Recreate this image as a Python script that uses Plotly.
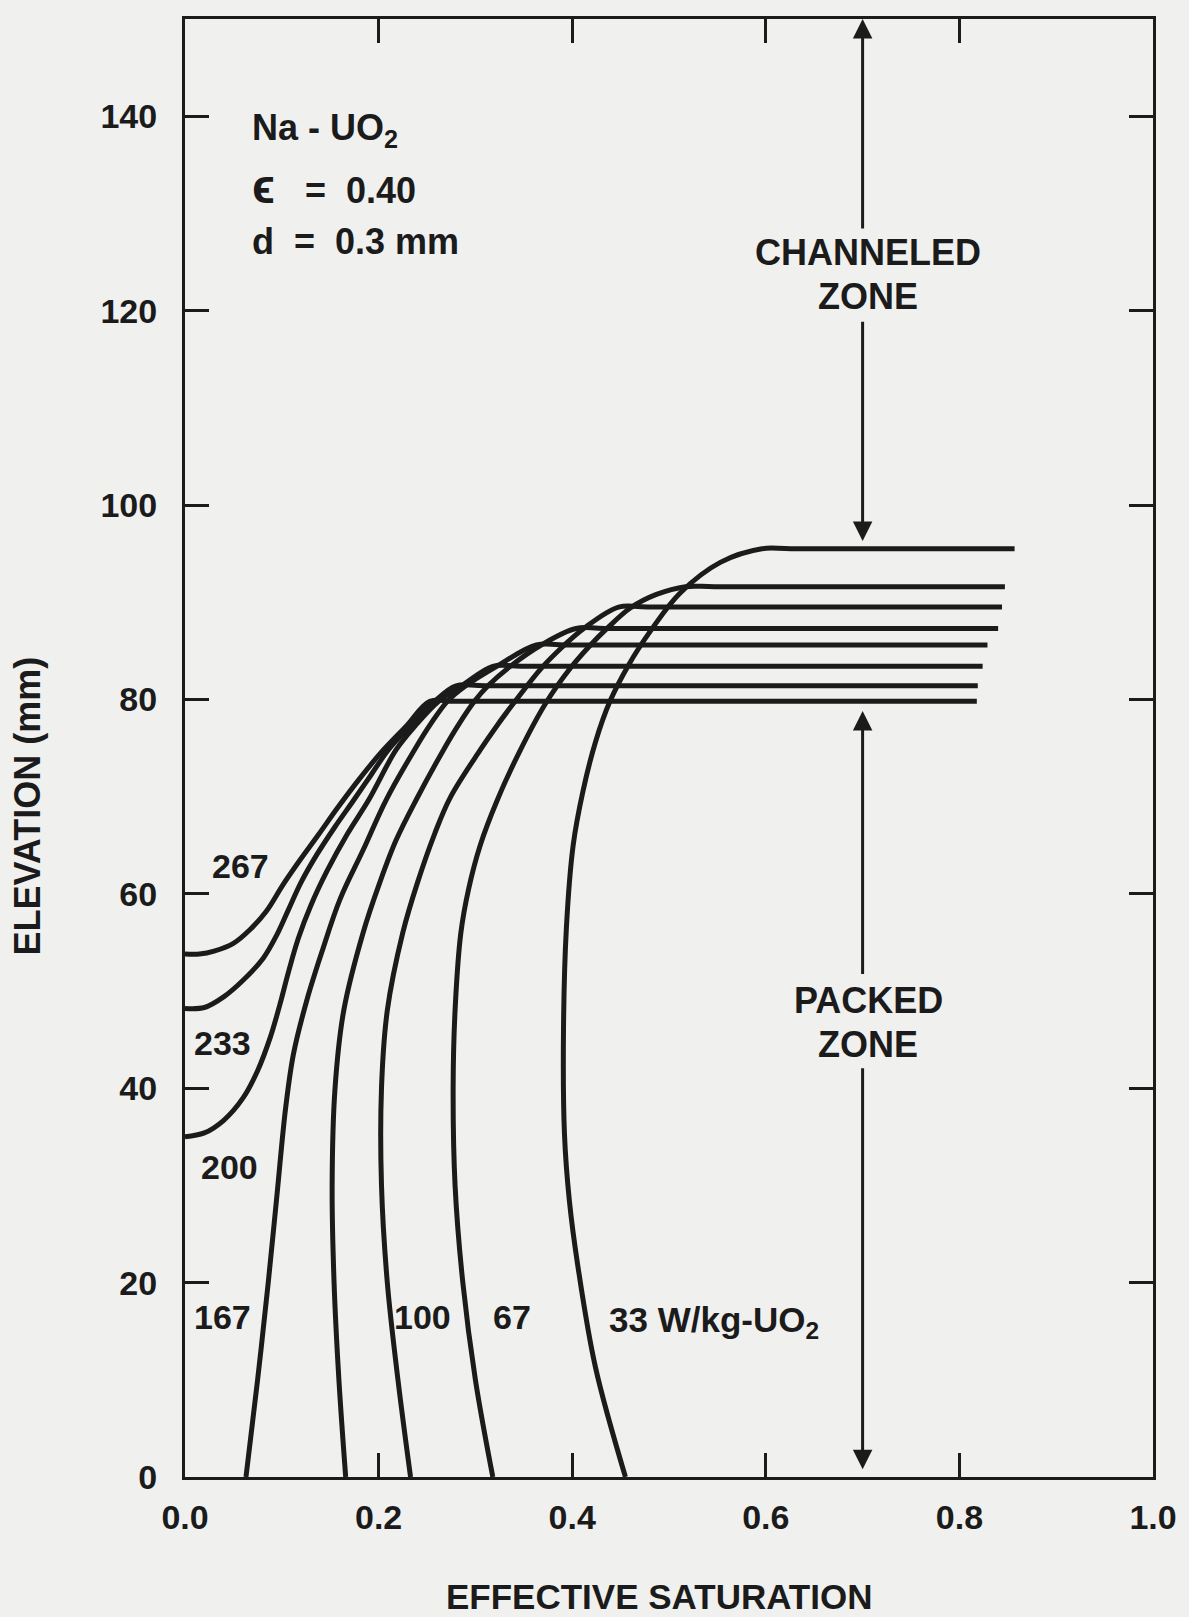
import plotly.graph_objects as go

INK = "#1b1b1b"
PAPER = "#f0f0ef"
FONT = "Liberation Sans, Arial, Helvetica, sans-serif"

# Heat generation rate of each profile (W/kg-UO2)
power_levels = [267, 233, 200, 167, 133, 100, 67, 33]

# Effective saturation / elevation (mm) along each profile
sat_267 = [0.0, 0.015, 0.03, 0.05, 0.067, 0.084, 0.101, 0.119, 0.138, 0.158, 0.18, 0.204, 0.229, 0.253, 0.28, 0.818]
elev_267 = [53.8, 53.8, 54.1, 54.9, 56.3, 58.2, 60.9, 63.5, 66.1, 68.9, 71.8, 74.7, 77.3, 79.8, 79.8, 79.8]

sat_233 = [0.0, 0.02, 0.04, 0.06, 0.081, 0.095, 0.107, 0.12, 0.136, 0.155, 0.174, 0.192, 0.21, 0.234, 0.258, 0.28, 0.31, 0.819]
elev_233 = [48.2, 48.3, 49.4, 51.1, 53.4, 55.8, 58.4, 61.2, 64.0, 66.9, 69.6, 72.2, 74.8, 77.4, 79.8, 81.4, 81.4, 81.4]

sat_200 = [0.0, 0.02, 0.04, 0.06, 0.075, 0.088, 0.098, 0.107, 0.117, 0.13, 0.147, 0.168, 0.19, 0.218, 0.238, 0.262, 0.286, 0.318, 0.348, 0.824]
elev_200 = [35.0, 35.4, 36.7, 39.0, 41.8, 45.2, 48.6, 52.0, 55.4, 58.8, 62.4, 66.2, 69.7, 74.8, 77.3, 79.8, 81.4, 83.4, 83.4, 83.4]

sat_167 = [0.063, 0.075, 0.086, 0.095, 0.104, 0.112, 0.126, 0.142, 0.16, 0.184, 0.208, 0.237, 0.254, 0.271, 0.29, 0.322, 0.363, 0.393, 0.829]
elev_167 = [0.0, 10.0, 20.0, 29.0, 38.0, 43.5, 49.1, 54.2, 59.4, 64.5, 69.7, 74.8, 77.5, 79.8, 81.4, 83.4, 85.6, 85.6, 85.6]

sat_133 = [0.166, 0.159, 0.154, 0.152, 0.155, 0.164, 0.184, 0.201, 0.218, 0.239, 0.267, 0.282, 0.299, 0.313, 0.336, 0.368, 0.404, 0.434, 0.840]
elev_133 = [0.0, 10.0, 20.0, 30.0, 40.0, 48.0, 56.0, 61.1, 65.5, 69.7, 74.8, 77.3, 79.8, 81.4, 83.4, 85.6, 87.3, 87.3, 87.3]

sat_100 = [0.233, 0.22, 0.209, 0.203, 0.203, 0.209, 0.225, 0.24, 0.258, 0.274, 0.305, 0.323, 0.341, 0.368, 0.392, 0.412, 0.448, 0.478, 0.844]
elev_100 = [0.0, 10.0, 20.0, 30.0, 40.0, 48.0, 56.0, 61.1, 66.2, 69.9, 74.8, 77.4, 79.8, 83.2, 85.6, 87.3, 89.5, 89.5, 89.5]

sat_67 = [0.318, 0.3, 0.287, 0.279, 0.277, 0.279, 0.285, 0.293, 0.305, 0.322, 0.345, 0.372, 0.398, 0.418, 0.436, 0.46, 0.487, 0.517, 0.547, 0.847]
elev_67 = [0.0, 10.0, 20.0, 30.0, 40.0, 48.0, 56.0, 60.5, 65.0, 69.5, 74.5, 79.5, 83.2, 85.5, 87.3, 89.4, 90.8, 91.6, 91.6, 91.6]

sat_33 = [0.455, 0.424, 0.406, 0.397, 0.392, 0.391, 0.394, 0.401, 0.411, 0.424, 0.439, 0.458, 0.482, 0.511, 0.553, 0.596, 0.626, 0.857]
elev_33 = [0.0, 11.3, 21.6, 28.5, 35.3, 45.9, 56.5, 65.0, 70.5, 75.6, 79.8, 83.5, 87.2, 90.9, 94.1, 95.5, 95.5, 95.5]

profiles = [
    (sat_267, elev_267), (sat_233, elev_233), (sat_200, elev_200), (sat_167, elev_167),
    (sat_133, elev_133), (sat_100, elev_100), (sat_67, elev_67), (sat_33, elev_33),
]

# Curve labels: power level -> (saturation, elevation) of label centre
label_pos = {
    267: (0.057, 62.9),
    233: (0.039, 44.7),
    200: (0.046, 31.9),
    167: (0.039, 16.5),
    100: (0.245, 16.5),
    67: (0.338, 16.5),
}
units_label_pos = (0.436, 16.5)

x_ticks = [0.0, 0.2, 0.4, 0.6, 0.8, 1.0]
x_ticktext = ["0.0", "0.2", "0.4", "0.6", "0.8", "1.0"]
y_ticks = [0, 20, 40, 60, 80, 100, 120, 140]

# Zone marker arrows at fixed saturation: (tip elevation, tail elevation)
zone_x = 0.70
zone_arrows = [(150.0, 128.3), (96.3, 119.0), (78.8, 51.6), (0.8, 42.2)]

fig = go.Figure()
for (sx, ey), p in zip(profiles, power_levels):
    fig.add_trace(go.Scatter(
        x=sx, y=ey, mode="lines", name=f"{p} W/kg-UO2",
        line=dict(color=INK, width=5, shape="spline", smoothing=1.0),
        hoverinfo="skip", showlegend=False,
    ))

annotations = []
bold = dict(family=FONT, size=34, color=INK, weight="bold")

for p, (lx, ly) in label_pos.items():
    annotations.append(dict(x=lx, y=ly, xref="x", yref="y", text=str(p),
                            showarrow=False, font=bold, xanchor="center", yanchor="middle"))
annotations.append(dict(x=units_label_pos[0], y=units_label_pos[1], xref="x", yref="y",
                        text=f"{power_levels[-1]} W/kg-UO<sub>2</sub>", showarrow=False,
                        font=dict(bold, size=35), xanchor="left", yanchor="middle", yshift=-5))

# Parameter block
nb = "\u00a0"
params = [
    "Na - UO<sub>2</sub>",
    f"<span style='font-size:48px'>\u03f5</span>{nb*3}={nb*2}0.40",
    f"d{nb*2}={nb*2}0.3{nb}mm",
]
param_y = [138.9, 132.8, 127.1]
param_shift = [-3, 0, 0]
param_font = dict(family=FONT, size=36, color=INK, weight="bold")
for t, py, sh in zip(params, param_y, param_shift):
    annotations.append(dict(x=0.067, y=py, xref="x", yref="y", text=t, showarrow=False,
                            font=param_font, xanchor="left", yanchor="middle", yshift=sh))

zone_font = dict(family=FONT, size=36, color=INK, weight="bold")
zone_text = [("CHANNELED", 126.0), ("ZONE", 121.5), ("PACKED", 49.0), ("ZONE", 44.5)]
for t, zy in zone_text:
    annotations.append(dict(x=0.706, y=zy, xref="x", yref="y", text=t, showarrow=False,
                            font=zone_font, xanchor="center", yanchor="middle"))

for tip, tail in zone_arrows:
    annotations.append(dict(x=zone_x, y=tip, ax=zone_x, ay=tail, xref="x", yref="y",
                            axref="x", ayref="y", text="", showarrow=True, arrowhead=2,
                            arrowsize=1.3, arrowwidth=3, arrowcolor=INK, standoff=0))

# Axis titles
title_font = dict(family=FONT, size=35, color=INK, weight="bold")
annotations.append(dict(x=0.49, y=-0.082, xref="paper", yref="paper", text="EFFECTIVE SATURATION",
                        showarrow=False, font=title_font, xanchor="center", yanchor="middle"))
annotations.append(dict(x=-0.163, y=0.46, xref="paper", yref="paper", text="ELEVATION (mm)",
                        showarrow=False, font=dict(title_font, size=36), textangle=-90,
                        xanchor="center", yanchor="middle"))

axis_common = dict(
    showline=True, linewidth=3, linecolor=INK, mirror="ticks",
    ticks="inside", ticklen=24, tickwidth=2.5, tickcolor=INK,
    showgrid=False, zeroline=False,
    tickfont=dict(family=FONT, size=34, color=INK, weight="bold"),
)

fig.update_layout(
    width=1189, height=1617,
    margin=dict(l=185, r=34, t=19, b=140),
    paper_bgcolor=PAPER, plot_bgcolor=PAPER,
    showlegend=False,
    xaxis=dict(range=[0, 1.0], tickvals=x_ticks, ticktext=x_ticktext,
               ticklabelstandoff=8, **axis_common),
    yaxis=dict(range=[0, 150], tickvals=y_ticks, ticklabelstandoff=18, **axis_common),
    annotations=annotations,
)

fig.write_html("out.html")
